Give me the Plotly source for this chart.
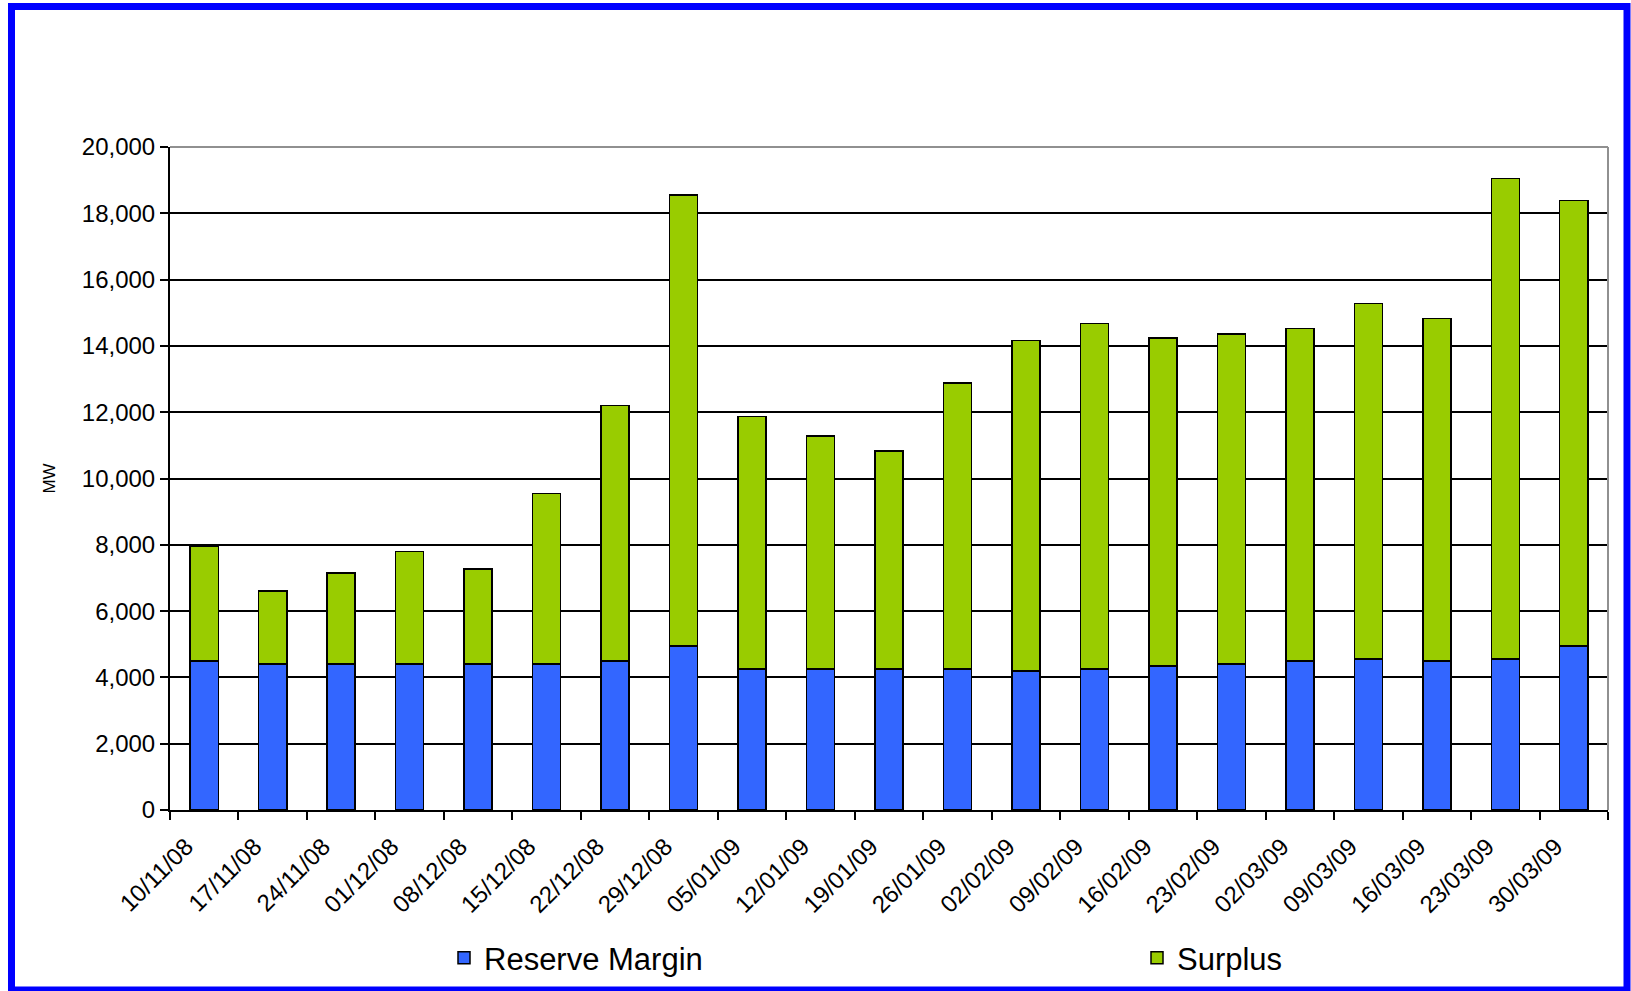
import plotly.graph_objects as go

weeks = ["10/11/08", "17/11/08", "24/11/08", "01/12/08", "08/12/08", "15/12/08",
         "22/12/08", "29/12/08", "05/01/09", "12/01/09", "19/01/09", "26/01/09",
         "02/02/09", "09/02/09", "16/02/09", "23/02/09", "02/03/09", "09/03/09",
         "16/03/09", "23/03/09", "30/03/09"]
reserve_margin = [4500, 4400, 4400, 4400, 4400, 4400, 4500, 4950, 4250, 4250, 4250,
                  4250, 4200, 4250, 4350, 4400, 4500, 4550, 4500, 4550, 4950]
surplus = [3450, 2200, 2750, 3400, 2875, 5150, 7700, 13600, 7625, 7025, 6580,
           8630, 9970, 10430, 9890, 9960, 10020, 10730, 10330, 14500, 13440]
y_ticks = list(range(0, 20001, 2000))

FONT = "Liberation Sans, Arial, sans-serif"
W, H = 1631, 991
L, R, T, B = 170, 23, 147, 181
PW, PH = W - L - R, H - T - B

def px(x):
    return (x - L) / PW

def py(y):
    return (H - B - y) / PH

fig = go.Figure()
fig.add_trace(go.Bar(x=weeks, y=reserve_margin, name="Reserve Margin", legend="legend",
                     marker=dict(color="#3366FF", line=dict(color="black", width=1.5))))
fig.add_trace(go.Bar(x=weeks, y=surplus, name="Surplus", legend="legend2",
                     marker=dict(color="#99CC00", line=dict(color="black", width=1.5))))

legend_common = dict(orientation="h", xanchor="left", yanchor="middle",
                     font=dict(size=31, family=FONT), bgcolor="rgba(0,0,0,0)",
                     borderwidth=0)

fig.update_layout(
    width=W, height=H,
    margin=dict(l=L, r=R, t=T, b=B, autoexpand=False),
    barmode="stack", bargap=0.59,
    paper_bgcolor="white", plot_bgcolor="white",
    font=dict(family=FONT, color="black"),
    showlegend=True,
    legend=dict(x=px(444), y=py(958), **legend_common),
    legend2=dict(x=px(1137), y=py(958), **legend_common),
    xaxis=dict(type="category", tickson="boundaries", ticks="outside", ticklen=8,
               tickcolor="black", tickwidth=2, showline=True, linecolor="black", linewidth=2,
               tickangle=-45, tickfont=dict(size=24, family=FONT), showgrid=False,
               ticklabelstandoff=11, ticklabelshift=-18),
    yaxis=dict(range=[0, 20000], tickvals=y_ticks, tickformat=",", ticks="outside",
               ticklen=8, tickcolor="black", tickwidth=2, showline=True, linecolor="black",
               linewidth=2, showgrid=True, gridcolor="black", gridwidth=2,
               zeroline=False, tickfont=dict(size=24, family=FONT),
               title=dict(text="MW", font=dict(size=17, family=FONT), standoff=22)),
    shapes=[
        dict(type="line", xref="paper", yref="paper", x0=0, x1=1, y0=1, y1=1,
             line=dict(color="#909090", width=2), layer="above"),
        dict(type="line", xref="paper", yref="paper", x0=1, x1=1, y0=0, y1=1,
             line=dict(color="#909090", width=2), layer="above"),
        dict(type="rect", xref="paper", yref="paper",
             x0=px(11.5), x1=px(1627), y0=py(990), y1=py(6.5),
             line=dict(color="#0000FF", width=7), layer="above"),
    ],
)

fig.write_html("out.html")
